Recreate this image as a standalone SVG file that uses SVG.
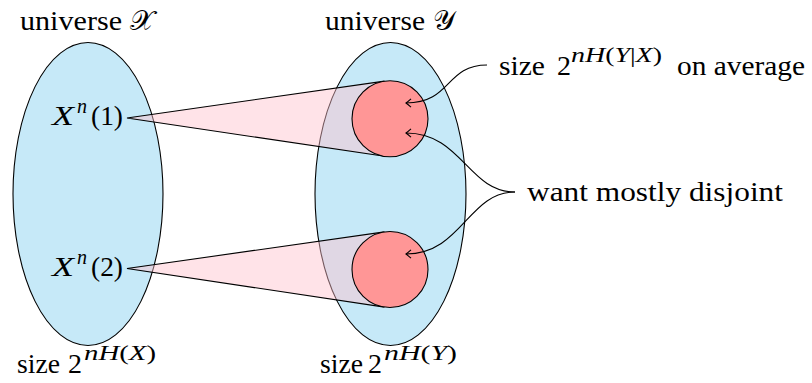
<svg xmlns="http://www.w3.org/2000/svg" width="812" height="383" viewBox="0 0 812 383">
<defs>
<marker id="ah" markerUnits="userSpaceOnUse" markerWidth="12" markerHeight="12" refX="6" refY="6" orient="auto" overflow="visible">
<path d="M1,1.8 Q4,4.5 6,6 Q4,7.5 1,10.2" fill="none" stroke="#000" stroke-width="1.1"/>
</marker>
</defs>
<g id="universeX">
<ellipse cx="88" cy="194" rx="75" ry="151.5" fill="#c6e9f8" stroke="#000" stroke-width="1.1"/>
</g>
<g id="universeY">
<ellipse cx="390.5" cy="194" rx="75.5" ry="151.5" fill="#c6e9f8" stroke="#000" stroke-width="1.1"/>
</g>
<g id="cone1">
<polygon points="127,118 384.5,81.1 384.5,156.3" fill="#ffc0cb" fill-opacity="0.45"/>
<path d="M384.5,81.1 L127,118 L384.5,156.3" fill="none" stroke="#000" stroke-width="1.1"/>
</g>
<g id="cone2">
<polygon points="127,268.5 384.5,231.9 384.5,307.1" fill="#ffc0cb" fill-opacity="0.45"/>
<path d="M384.5,231.9 L127,268.5 L384.5,307.1" fill="none" stroke="#000" stroke-width="1.1"/>
</g>
<g id="set1">
<circle cx="390" cy="118.7" r="38" fill="#ff9696" stroke="#000" stroke-width="1.1"/>
</g>
<g id="set2">
<circle cx="390" cy="269.5" r="38" fill="#ff9696" stroke="#000" stroke-width="1.1"/>
</g>
<g id="connectors" fill="none" stroke="#000" stroke-width="1.1">
<path d="M487,65 C445,65 452,103 406,103" marker-end="url(#ah)"/>
<path d="M515,192 C468,192 462,133 406,133" marker-end="url(#ah)"/>
<path d="M515,192 C468,192 462,254 406,254" marker-end="url(#ah)"/>
</g>
<g id="labels" font-size="28">
<text x="20" y="30" font-family="Liberation Serif" textLength="102" lengthAdjust="spacingAndGlyphs">universe</text>
<text x="130" y="30" font-family="Liberation Serif">𝒳</text>
<text x="325" y="30" font-family="Liberation Serif" textLength="100" lengthAdjust="spacingAndGlyphs">universe</text>
<text x="433" y="30" font-family="Liberation Serif">𝒴</text>
<text x="52" y="125" font-family="Liberation Serif" font-style="italic" textLength="22" lengthAdjust="spacingAndGlyphs">X</text>
<text x="77" y="113" font-family="Liberation Serif" font-style="italic" font-size="20">n</text>
<text x="91" y="125" font-family="Liberation Serif" textLength="32" lengthAdjust="spacingAndGlyphs">(1)</text>
<text x="52" y="275.5" font-family="Liberation Serif" font-style="italic" textLength="22" lengthAdjust="spacingAndGlyphs">X</text>
<text x="77" y="263.5" font-family="Liberation Serif" font-style="italic" font-size="20">n</text>
<text x="91" y="275.5" font-family="Liberation Serif" textLength="32" lengthAdjust="spacingAndGlyphs">(2)</text>
<text x="499" y="75" font-family="Liberation Serif" textLength="46" lengthAdjust="spacingAndGlyphs">size</text>
<text x="557" y="75" font-family="Liberation Serif">2</text>
<text x="571" y="62" font-family="Liberation Serif" font-size="20" textLength="91" lengthAdjust="spacingAndGlyphs"><tspan font-style="italic">nH</tspan>(<tspan font-style="italic">Y</tspan>|<tspan font-style="italic">X</tspan>)</text>
<text x="677" y="75" font-family="Liberation Serif" textLength="128" lengthAdjust="spacingAndGlyphs">on average</text>
<text x="527" y="201" font-family="Liberation Serif" textLength="256" lengthAdjust="spacingAndGlyphs">want mostly disjoint</text>
<text x="17" y="373" font-family="Liberation Serif" textLength="43" lengthAdjust="spacingAndGlyphs">size</text>
<text x="68" y="373" font-family="Liberation Serif">2</text>
<text x="84" y="360" font-family="Liberation Serif" font-size="20" textLength="72" lengthAdjust="spacingAndGlyphs"><tspan font-style="italic">nH</tspan>(<tspan font-style="italic">X</tspan>)</text>
<text x="320" y="373" font-family="Liberation Serif" textLength="43" lengthAdjust="spacingAndGlyphs">size</text>
<text x="368" y="373" font-family="Liberation Serif">2</text>
<text x="384" y="360" font-family="Liberation Serif" font-size="20" textLength="73" lengthAdjust="spacingAndGlyphs"><tspan font-style="italic">nH</tspan>(<tspan font-style="italic">Y</tspan>)</text>
</g>
</svg>
